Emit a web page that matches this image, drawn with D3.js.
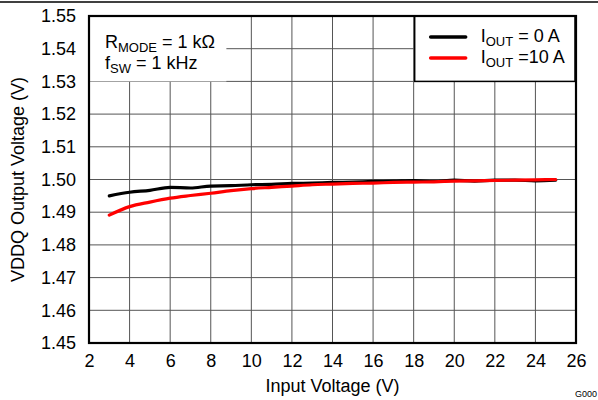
<!DOCTYPE html>
<html>
<head>
<meta charset="utf-8">
<script src="https://cdn.jsdelivr.net/npm/d3@7"></script>
<style>
  body { margin: 0; background: #fff; }
  text { font-family: "Liberation Sans", Arial, sans-serif; }
</style>
</head>
<body>
<div id="chart"></div>
<script>
// input voltage (V)
var vin = [3, 4, 5, 6, 7, 8, 9, 10, 11, 12, 13, 14, 15, 16, 17, 18, 19, 20, 21, 22, 23, 24, 25];
// VDDQ output for IOUT = 0 A
var vout0 = [1.4950, 1.4961, 1.4967, 1.4976, 1.4974, 1.4980, 1.4981, 1.4984, 1.4985, 1.4988, 1.4989, 1.4991, 1.4992, 1.4994, 1.4995, 1.4997, 1.4994, 1.4998, 1.4995, 1.4998, 1.4998, 1.4996, 1.4998];
// VDDQ output for IOUT = 10 A
var vout10 = [1.4891, 1.4917, 1.4931, 1.4943, 1.4951, 1.4958, 1.4966, 1.4972, 1.4976, 1.4980, 1.4984, 1.4986, 1.4988, 1.4989, 1.4991, 1.4992, 1.4993, 1.4995, 1.4996, 1.4997, 1.4998, 1.4999, 1.5000];

var xTicks = [2, 4, 6, 8, 10, 12, 14, 16, 18, 20, 22, 24, 26];
var yTicks = [1.45, 1.46, 1.47, 1.48, 1.49, 1.50, 1.51, 1.52, 1.53, 1.54, 1.55];

var W = 598, H = 400;
var margin = {top: 16, right: 22, bottom: 57, left: 89};
var width = W - margin.left - margin.right,
    height = H - margin.top - margin.bottom;
var fs = "18px", subFs = "13px";

var svg = d3.select("#chart").append("svg")
    .attr("width", W)
    .attr("height", H);

// header rule
svg.append("line")
    .attr("x1", 0).attr("x2", W)
    .attr("y1", 2).attr("y2", 2)
    .attr("stroke", "#000").attr("stroke-width", 1.5);

var g = svg.append("g")
    .attr("transform", "translate(" + margin.left + "," + margin.top + ")");

var x = d3.scaleLinear().domain([2, 26]).range([0, width]);
var y = d3.scaleLinear().domain([1.45, 1.55]).range([height, 0]);

// grid
g.append("g").selectAll("line")
  .data(xTicks)
  .enter().append("line")
    .attr("x1", d => x(d)).attr("x2", d => x(d))
    .attr("y1", 0).attr("y2", height)
    .attr("stroke", "#555").attr("stroke-width", 1);

g.append("g").selectAll("line")
  .data(yTicks)
  .enter().append("line")
    .attr("x1", 0).attr("x2", width)
    .attr("y1", d => y(d)).attr("y2", d => y(d))
    .attr("stroke", "#555").attr("stroke-width", 1);

// annotation box (white, no border)
g.append("rect")
    .attr("x", 1).attr("y", 1)
    .attr("width", x(8.77) - 1).attr("height", y(1.53) - 1)
    .attr("fill", "#fff");

function subText(parent, px, py, main, sub, rest) {
  var t = parent.append("text")
      .attr("x", px).attr("y", py)
      .style("font-size", fs);
  t.append("tspan").text(main);
  t.append("tspan").text(sub).attr("dy", 4).style("font-size", subFs);
  t.append("tspan").text(rest).attr("dy", -4);
  return t;
}

subText(g, 16, 32, "R", "MODE", " = 1 k\u03A9");
subText(g, 16, 53, "f", "SW", " = 1 kHz");

// lines
var line = d3.line()
    .x(function(d) { return x(d[0]); })
    .y(function(d) { return y(d[1]); })
    .curve(d3.curveMonotoneX);

var series = [
  {name: "0 A", values: vout0, color: "#000"},
  {name: "10 A", values: vout10, color: "#ff0000"}
];

series.forEach(function(s) {
  g.append("path")
    .datum(vin.map(function(v, i) { return [v, s.values[i]]; }))
    .attr("fill", "none")
    .attr("stroke", s.color)
    .attr("stroke-width", 3.2)
    .attr("stroke-linecap", "round")
    .attr("d", line);
});

// legend box
var lx = x(18.05), lw = x(26) - lx - 1;
var legend = g.append("g");
legend.append("rect")
    .attr("x", lx).attr("y", 0)
    .attr("width", lw).attr("height", y(1.53))
    .attr("fill", "#fff")
    .attr("stroke", "#000").attr("stroke-width", 1.5);

var labels = [["I", "OUT", " = 0 A"], ["I", "OUT", " =10 A"]];
series.forEach(function(s, i) {
  var ly = 21 + i * 21;
  legend.append("line")
    .attr("x1", lx + 16).attr("x2", lx + 51)
    .attr("y1", ly).attr("y2", ly)
    .attr("stroke", s.color).attr("stroke-width", 3.5)
    .attr("stroke-linecap", "round");
  subText(legend, lx + 66, ly + 5, labels[i][0], labels[i][1], labels[i][2]);
});

// frame
g.append("rect")
    .attr("width", width).attr("height", height)
    .attr("fill", "none")
    .attr("stroke", "#000").attr("stroke-width", 2.2);

// axes
var xAxis = g.append("g")
    .attr("transform", "translate(0," + height + ")")
    .call(d3.axisBottom(x).tickValues(xTicks).tickSize(0).tickPadding(11).tickFormat(d3.format("d")));
var yAxis = g.append("g")
    .call(d3.axisLeft(y).tickValues(yTicks).tickSize(0).tickPadding(13).tickFormat(d3.format(".2f")));

[xAxis, yAxis].forEach(function(a) {
  a.select(".domain").remove();
  a.selectAll("text")
    .style("font-family", "'Liberation Sans', Arial, sans-serif")
    .style("font-size", fs)
    .attr("fill", "#000");
});

// titles
svg.append("text")
    .attr("x", margin.left + width / 2).attr("y", 392)
    .attr("text-anchor", "middle")
    .style("font-size", fs)
    .text("Input Voltage (V)");

svg.append("text")
    .attr("transform", "translate(24," + (margin.top + height / 2) + ") rotate(-90)")
    .attr("text-anchor", "middle")
    .style("font-size", fs)
    .text("VDDQ Output Voltage (V)");

svg.append("text")
    .attr("x", 597).attr("y", 397)
    .attr("text-anchor", "end")
    .style("font-size", "9px")
    .text("G000");
</script>
</body>
</html>
